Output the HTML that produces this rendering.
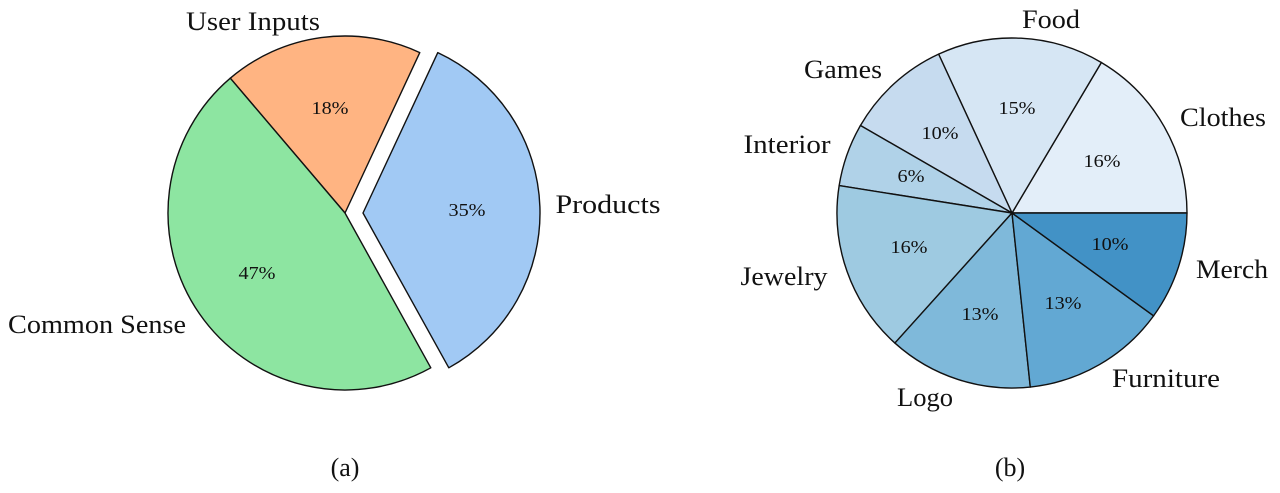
<!DOCTYPE html>
<html><head><meta charset="utf-8">
<style>
html,body{margin:0;padding:0;background:#fff;}
svg{display:block;}
text{font-family:"Liberation Serif",serif;fill:#111;}
.l{font-size:26px;}
.p{font-size:18px;}
</style></head>
<body>
<svg id="s" width="1280" height="493" viewBox="0 0 1280 493" xmlns="http://www.w3.org/2000/svg">
<g id="w"></g>
<text class="l" x="253" y="30" text-anchor="middle" textLength="134" lengthAdjust="spacingAndGlyphs">User Inputs</text>
<text class="l" x="608" y="213" text-anchor="middle" textLength="105" lengthAdjust="spacingAndGlyphs">Products</text>
<text class="l" x="97" y="333" text-anchor="middle" textLength="178" lengthAdjust="spacingAndGlyphs">Common Sense</text>
<text class="p" x="330" y="114" text-anchor="middle" textLength="37" lengthAdjust="spacingAndGlyphs">18%</text>
<text class="p" x="467" y="216" text-anchor="middle" textLength="37" lengthAdjust="spacingAndGlyphs">35%</text>
<text class="p" x="257" y="279" text-anchor="middle" textLength="37" lengthAdjust="spacingAndGlyphs">47%</text>
<text class="l" x="345" y="476" text-anchor="middle">(a)</text>

<text class="l" x="1051" y="28" text-anchor="middle" textLength="58" lengthAdjust="spacingAndGlyphs">Food</text>
<text class="l" x="843" y="78" text-anchor="middle" textLength="78" lengthAdjust="spacingAndGlyphs">Games</text>
<text class="l" x="1223" y="126" text-anchor="middle" textLength="86" lengthAdjust="spacingAndGlyphs">Clothes</text>
<text class="l" x="787" y="153" text-anchor="middle" textLength="87" lengthAdjust="spacingAndGlyphs">Interior</text>
<text class="l" x="784" y="285" text-anchor="middle" textLength="87" lengthAdjust="spacingAndGlyphs">Jewelry</text>
<text class="l" x="1232" y="278" text-anchor="middle" textLength="72" lengthAdjust="spacingAndGlyphs">Merch</text>
<text class="l" x="1166" y="387" text-anchor="middle" textLength="108" lengthAdjust="spacingAndGlyphs">Furniture</text>
<text class="l" x="925" y="406" text-anchor="middle" textLength="56" lengthAdjust="spacingAndGlyphs">Logo</text>
<text class="p" x="1017" y="114" text-anchor="middle" textLength="37" lengthAdjust="spacingAndGlyphs">15%</text>
<text class="p" x="940" y="139" text-anchor="middle" textLength="37" lengthAdjust="spacingAndGlyphs">10%</text>
<text class="p" x="1102" y="167" text-anchor="middle" textLength="37" lengthAdjust="spacingAndGlyphs">16%</text>
<text class="p" x="911" y="182" text-anchor="middle" textLength="27" lengthAdjust="spacingAndGlyphs">6%</text>
<text class="p" x="909" y="253" text-anchor="middle" textLength="37" lengthAdjust="spacingAndGlyphs">16%</text>
<text class="p" x="980" y="320" text-anchor="middle" textLength="37" lengthAdjust="spacingAndGlyphs">13%</text>
<text class="p" x="1063" y="309" text-anchor="middle" textLength="37" lengthAdjust="spacingAndGlyphs">13%</text>
<text class="p" x="1110" y="250" text-anchor="middle" textLength="37" lengthAdjust="spacingAndGlyphs">10%</text>
<text class="l" x="1010" y="476" text-anchor="middle">(b)</text>
</svg>
<script>
function wedge(cx,cy,r,a0,a1,fill){
  var t0=a0*Math.PI/180,t1=a1*Math.PI/180;
  var x0=cx+r*Math.cos(t0),y0=cy-r*Math.sin(t0),x1=cx+r*Math.cos(t1),y1=cy-r*Math.sin(t1);
  var large=(a1-a0)>180?1:0;
  return '<path d="M'+cx+' '+cy+' L'+x0.toFixed(2)+' '+y0.toFixed(2)+' A'+r+' '+r+' 0 '+large+' 0 '+x1.toFixed(2)+' '+y1.toFixed(2)+' Z" fill="'+fill+'" stroke="#111" stroke-width="1.4" stroke-linejoin="round"/>';
}
var h='';
h+=wedge(363,213,177,-61,65,'#a1c9f4');
h+=wedge(345,213,177,65,130.4,'#ffb482');
h+=wedge(345,213,177,130.4,299,'#8de5a1');
var b=[0,59.3,114.8,150,171,228,276,324,360];
var c=['#e3eef9','#d6e6f4','#c6dbef','#b0d2e8','#9ecae1','#7fb9da','#62a8d3','#4292c6'];
for(var i=0;i<8;i++)h+=wedge(1012,213,175,b[i],b[i+1],c[i]);
document.getElementById('w').innerHTML=h;
</script>
</body></html>
